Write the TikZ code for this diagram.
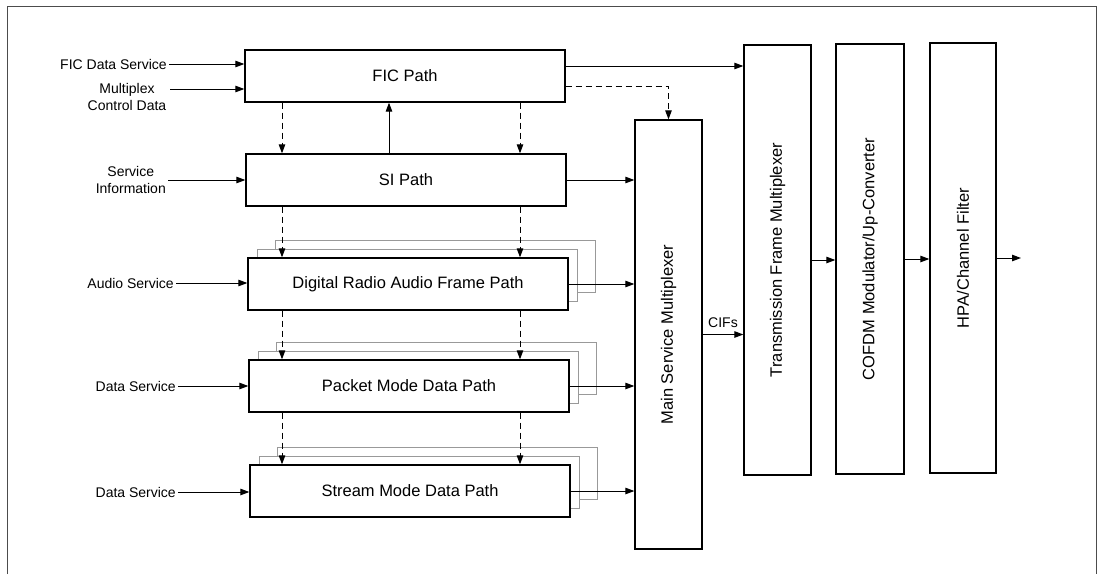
\documentclass[tikz,border=0pt]{standalone}
\usepackage{fontspec}
\setmainfont{Liberation Sans}
\usetikzlibrary{arrows.meta}
\begin{document}
\begin{tikzpicture}[x=1pt,y=-1pt,
  box/.style={draw=black, line width=1.3pt, fill=white, inner sep=0pt, font=\fontsize{16.5}{19}\selectfont},
  wide/.style={minimum width=320pt, minimum height=52pt},
  ghost/.style={draw=black!40, line width=0.9pt, fill=white, inner sep=0pt, minimum width=320pt, minimum height=52pt},
  lab/.style={font=\fontsize{14}{17}\selectfont, align=center, inner sep=2pt},
  arr/.style={line width=1pt, -{Triangle[length=9pt,width=6.5pt]}},
  darr/.style={arr, dash pattern=on 6pt off 4pt},
  frameline/.style={draw=black!70, line width=0.8pt}
]
\useasboundingbox (0,0) rectangle (1098,574);
\draw[frameline] (7,574) -- (7,6) -- (1096,6) -- (1096,574);

% left column boxes
\node[box, wide] (fic) at (405,76) {FIC Path};
\node[box, wide] (si) at (406,180) {SI Path};

\node[ghost] (draf2) at (435,266) {};
\node[ghost] (draf1) at (417,275) {};
\node[box, wide] (draf) at (408,284) {Digital Radio Audio Frame Path};

\node[ghost] (pmdp2) at (436,368) {};
\node[ghost] (pmdp1) at (418,377) {};
\node[box, wide] (pmdp) at (409,386) {Packet Mode Data Path};

\node[ghost] (smdp2) at (437,473) {};
\node[ghost] (smdp1) at (419,482) {};
\node[box, wide] (smdp) at (410,491) {Stream Mode Data Path};

% vertical boxes
\node[box, minimum width=67pt, minimum height=429pt] (msm) at (668.5,334.5) {\rotatebox{90}{Main Service Multiplexer}};
\node[box, minimum width=67pt, minimum height=430pt] (tfm) at (777.5,260) {\rotatebox{90}{Transmission Frame Multiplexer}};
\node[box, minimum width=68pt, minimum height=430pt] (cofdm) at (870,259) {\rotatebox{90}{COFDM Modulator/Up-Converter}};
\node[box, minimum width=66pt, minimum height=430pt] (hpa) at (963,258) {\rotatebox{90}{HPA/Channel Filter}};

% input labels
\node[lab, anchor=east] (lfic) at (169,64) {FIC Data Service};
\node[lab] (lmcd) at (127,97) {Multiplex\\Control Data};
\coordinate (imcd) at (170,89);
\node[lab, anchor=east] (lsi) at (168,180) {Service\\Information};
\node[lab, anchor=east] (laud) at (176,283) {Audio Service};
\node[lab, anchor=east] (ld1) at (178,386) {Data Service};
\node[lab, anchor=east] (ld2) at (178,492) {Data Service};

% inputs
\draw[arr] (lfic.east) -- (lfic.east -| fic.west);
\draw[arr] (imcd) -- (imcd -| fic.west);
\draw[arr] (lsi.east) -- (lsi.east -| si.west);
\draw[arr] (laud.east) -- (laud.east -| draf.west);
\draw[arr] (ld1.east) -- (ld1.east -| pmdp.west);
\draw[arr] (ld2.east) -- (ld2.east -| smdp.west);

% vertical links between path boxes
\coordinate (cL) at (282,0);
\coordinate (cR) at (520,0);
\coordinate (cU) at (389,0);
\draw[darr] (fic.south -| cL) -- (si.north -| cL);
\draw[darr] (fic.south -| cR) -- (si.north -| cR);
\draw[arr] (si.north -| cU) -- (fic.south -| cU);
\draw[darr] (si.south -| cL) -- (draf.north -| cL);
\draw[darr] (si.south -| cR) -- (draf.north -| cR);
\draw[darr] (draf.south -| cL) -- (pmdp.north -| cL);
\draw[darr] (draf.south -| cR) -- (pmdp.north -| cR);
\draw[darr] (pmdp.south -| cL) -- (smdp.north -| cL);
\draw[darr] (pmdp.south -| cR) -- (smdp.north -| cR);

% outputs
\draw[arr] ([yshift=10pt]fic.east) -- ([yshift=10pt]fic.east -| tfm.west);
\draw[darr] ([yshift=-10pt]fic.east) -| (msm.north);
\draw[arr] (si.east) -- (si.east -| msm.west);
\draw[arr] (draf.east) -- (draf.east -| msm.west);
\draw[arr] (pmdp.east) -- (pmdp.east -| msm.west);
\draw[arr] (smdp.east) -- (smdp.east -| msm.west);
\draw[arr] (msm.east) -- node[lab, above=4pt] {CIFs} (msm.east -| tfm.west);
\draw[arr] (tfm.east) -- (tfm.east -| cofdm.west);
\draw[arr] (cofdm.east) -- (cofdm.east -| hpa.west);
\coordinate (out) at (1021,0);
\draw[arr] (hpa.east) -- (hpa.east -| out);
\end{tikzpicture}
\end{document}
